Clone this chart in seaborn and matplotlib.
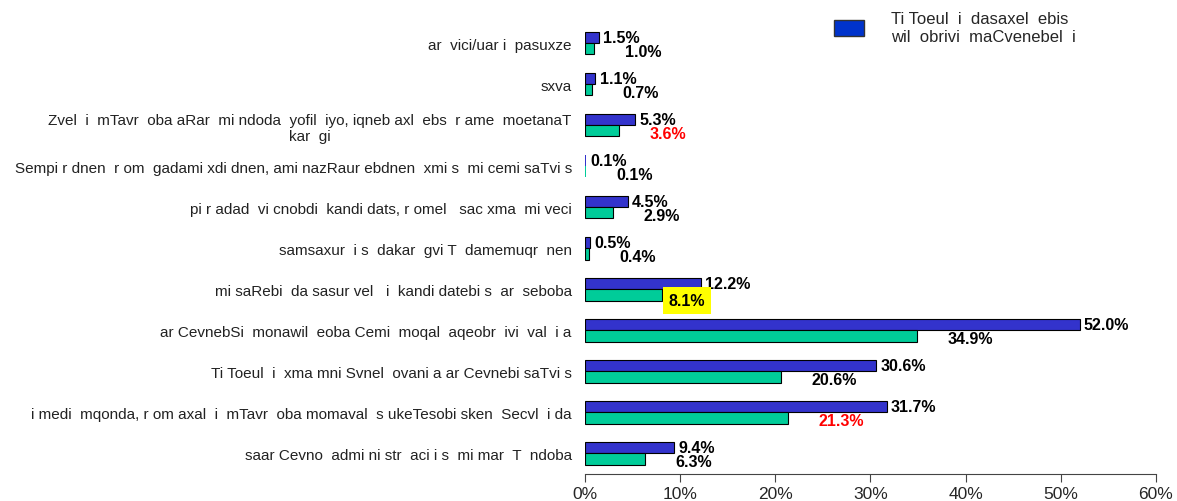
import matplotlib
matplotlib.use('Agg')
import matplotlib.pyplot as plt
import matplotlib.patches as mpatches
import pandas as pd
import seaborn as sns

# category labels, top to bottom
categories = [
    "ar  vici/uar i  pasuxze",
    "sxva",
    "Zvel  i  mTavr  oba aRar  mi ndoda  yofil  iyo, iqneb axl  ebs  r ame  moetanaT\nkar  gi",
    "Sempi r dnen  r om  gadami xdi dnen, ami nazRaur ebdnen  xmi s  mi cemi saTvi s",
    "pi r adad  vi cnobdi  kandi dats, r omel   sac xma  mi veci",
    "samsaxur  i s  dakar  gvi T  damemuqr  nen",
    "mi saRebi  da sasur vel   i  kandi datebi s  ar  seboba",
    "ar CevnebSi  monawil  eoba Cemi  moqal  aqeobr  ivi  val  i a",
    "Ti Toeul  i  xma mni Svnel  ovani a ar Cevnebi saTvi s",
    "i medi  mqonda, r om axal  i  mTavr  oba momaval  s ukeTesobi sken  Secvl  i da",
    "saar Cevno  admi ni str  aci i s  mi mar  T  ndoba",
]
series_names = ["Ti Toeul  i  dasaxel  ebis\nwil  obrivi  maCvenebel  i", "secondary"]
blue_vals = [1.5, 1.1, 5.3, 0.1, 4.5, 0.5, 12.2, 52.0, 30.6, 31.7, 9.4]
green_vals = [1.0, 0.7, 3.6, 0.1, 2.9, 0.4, 8.1, 34.9, 20.6, 21.3, 6.3]
x_ticks = [0, 10, 20, 30, 40, 50, 60]
red_labels = ["3.6%", "21.3%"]
yellow_label = "8.1%"

df = pd.DataFrame({
    'cat': categories * 2,
    'series': [series_names[0]] * len(categories) + [series_names[1]] * len(categories),
    'value': blue_vals + green_vals,
})

sns.set_style('white')
plt.rcParams['font.family'] = ['Liberation Sans', 'DejaVu Sans']

fig = plt.figure(figsize=(11.77, 5.02), dpi=100)
ax = fig.add_axes([0.497, 0.054, 0.485, 0.899])

sns.barplot(data=df, y='cat', x='value', hue='series', order=categories,
            hue_order=series_names, palette=['#3333CC', '#00CC99'],
            saturation=1, width=0.55, edgecolor='black', linewidth=0.8,
            orient='h', legend=False, ax=ax)

# tiny bars (0.1%) are not visible in the original
for cont in ax.containers:
    for p in cont.patches:
        if p.get_width() < 0.3:
            p.set_linewidth(0)

# value labels
blue_cont, green_cont = ax.containers[0], ax.containers[1]
ax.bar_label(blue_cont, labels=[f"{v:.1f}%" for v in blue_vals], padding=3,
             fontsize=11.5, fontweight='bold', color='black')
green_texts = ax.bar_label(green_cont, labels=[f"{v:.1f}%" for v in green_vals],
                           padding=22, fontsize=11.5, fontweight='bold', color='black')
for t in green_texts:
    t.xyann = (t.xyann[0], -2)
    if t.get_text() in red_labels:
        t.set_color('#FF0000')
    if t.get_text() == yellow_label:
        t.xyann = (5, -4)
        t.set_bbox(dict(facecolor='#FFFF00', edgecolor='none', pad=4))

ax.set_xlim(0, 60)
ax.set_ylim(len(categories) - 0.5, -0.5)
ax.set_xticks(x_ticks)
ax.set_xticklabels([f"{t}%" for t in x_ticks], fontsize=12.5)
ax.tick_params(axis='x', bottom=True, length=6, color='#444444', pad=3)
ax.tick_params(axis='y', left=False, labelsize=11, labelcolor='#222222', pad=6)
for lbl in ax.get_yticklabels():
    lbl.set_horizontalalignment('right')
    lbl.set_multialignment('center')
ax.set_xlabel('')
ax.set_ylabel('')
for s in ['top', 'right', 'left']:
    ax.spines[s].set_visible(False)
ax.spines['bottom'].set_color('#444444')

handle = mpatches.Patch(facecolor='#0033CC', edgecolor='#333333', linewidth=1)
fig.legend([handle], [series_names[0]], loc='upper left', bbox_to_anchor=(0.696, 1.005),
           frameon=False, fontsize=12, handlelength=1.8, handleheight=1.1,
           handletextpad=1.6)

fig.savefig('out.png', dpi=100)
